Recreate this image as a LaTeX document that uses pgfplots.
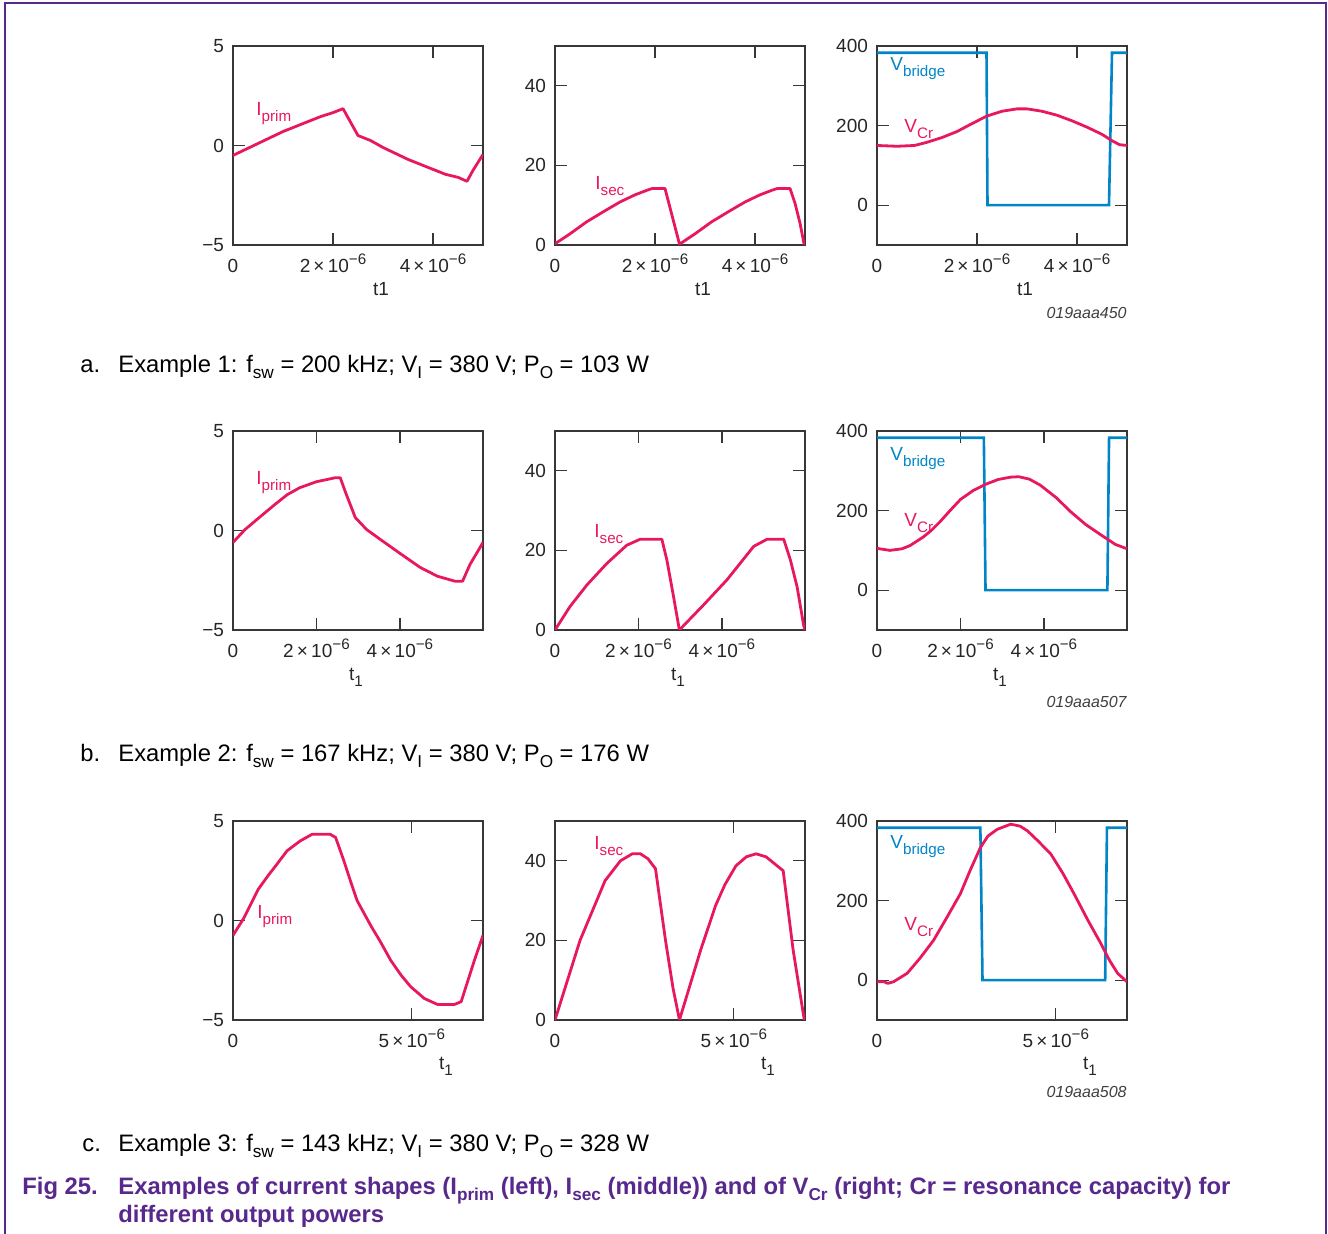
\documentclass[border=0pt]{standalone}
\usepackage{fontspec}
\setmainfont{Liberation Sans}
\usepackage{pgfplots}
\pgfplotsset{compat=1.18}
\definecolor{cred}{RGB}{232,24,92}
\definecolor{cblue}{RGB}{0,134,200}
\definecolor{cpurp}{RGB}{88,40,140}
\definecolor{cframe}{RGB}{55,55,55}
\newcommand{\ssub}[1]{\raisebox{-2.6pt}{\fontsize{7.6}{8}\selectfont #1}}
\newcommand{\csub}[1]{\raisebox{-2.6pt}{\fontsize{8.6}{9}\selectfont #1}}
\newcommand{\bsub}[1]{\raisebox{-2.6pt}{\fontsize{8.6}{9}\selectfont\bfseries #1}}
\newcommand{\sexp}[1]{\raisebox{4.2pt}{\fontsize{7.6}{8}\selectfont #1}}
\pgfplotsset{
  base/.style={
    scale only axis, width=125pt, height=99.5pt, anchor=south west,
    axis line style={draw=cframe, line width=0.65pt},
    every tick/.style={draw=cframe, line width=0.65pt},
    major tick length=6pt, tick align=inside,
    tick label style={font=\fontsize{9.5}{11}\selectfont, text=black!85},
    xticklabel style={anchor=base, yshift=-13.75pt},
    yticklabel style={anchor=east, xshift=-1pt},
  },
  iprim/.style={base, ymin=-5, ymax=5, ytick={-5,0,5}, yticklabels={−5,0,5}},
  isec/.style={base, ymin=0, ymax=50, ytick={0,20,40}, yticklabels={0,20,40}},
  vcr/.style={base, ymin=-100, ymax=400, ytick={0,200,400}, yticklabels={0,200,400}},
  rowab/.style={xtick={0,2,4}, xticklabels={0,{2\,×\,10\sexp{−6}},{4\,×\,10\sexp{−6}}}},
  rowc/.style={xtick={0,5}, xticklabels={0,{5\,×\,10\sexp{−6}}}},
  rc/.style={draw=cred, line width=1.4pt, line join=round, no marks},
  bc/.style={draw=cblue, line width=1.3pt, line join=miter, no marks},
}
\newcommand{\lbl}{\fontsize{9.5}{11}\selectfont}
\begin{document}
\begin{tikzpicture}[x=0.5pt,y=0.5pt]
\path[use as bounding box] (0,0) rectangle (1328,1234);
\draw[cpurp, line width=0.7pt] (5,-2) -- (5,1231) -- (1326,1231) -- (1326,-2);

% ---------------- Row a ----------------
\begin{axis}[iprim, rowab, at={(116.5pt,494.5pt)}, xmin=0, xmax=5]
\addplot[rc] table {
0 -0.5
0.25 -0.2
0.5 0.1
0.75 0.4
1.0 0.7
1.25 0.95
1.5 1.2
1.75 1.45
2.0 1.65
2.2 1.85
2.5 0.5
2.75 0.25
3.0 -0.1
3.25 -0.4
3.5 -0.7
3.75 -0.95
4.0 -1.2
4.25 -1.45
4.5 -1.6
4.68 -1.8
4.8 -1.25
5.0 -0.45
};
\end{axis}
\begin{axis}[isec, rowab, at={(277.5pt,494.5pt)}, xmin=0, xmax=5]
\addplot[rc] table {
0 0.3
0.3 2.8
0.63 5.8
1.0 8.6
1.3 10.8
1.6 12.6
1.85 13.8
1.95 14.2
2.2 14.2
2.49 0.2
2.8 2.8
3.13 5.8
3.5 8.6
3.8 10.8
4.1 12.6
4.35 13.8
4.45 14.2
4.7 14.2
4.8 10.5
4.9 5.5
4.98 0.3
5.0 0
};
\end{axis}
\begin{axis}[vcr, rowab, at={(438.5pt,494.5pt)}, xmin=0, xmax=5]
\addplot[bc] table {
0 383
2.19 383
2.21 0
4.64 0
4.7 383
5 383
};
\addplot[rc] table {
0 150
0.4 148
0.75 150
1.0 158
1.3 170
1.6 185
1.9 205
2.2 224
2.5 236
2.8 242
3.0 242
3.3 236
3.6 226
3.9 212
4.2 196
4.5 178
4.7 162
4.85 152
5.0 150
};
\end{axis}

% ---------------- Row b ----------------
\begin{axis}[iprim, rowab, at={(116.5pt,302pt)}, xmin=0, xmax=5.99]
\addplot[rc] table {
0 -0.6
0.29 0.05
0.6 0.6
1.0 1.3
1.3 1.8
1.6 2.15
2.0 2.45
2.45 2.65
2.57 2.65
2.69 1.95
2.93 0.65
3.2 0.05
3.53 -0.45
4.0 -1.15
4.48 -1.85
4.9 -2.3
5.32 -2.55
5.5 -2.55
5.68 -1.7
5.85 -1.1
5.99 -0.6
};
\end{axis}
\begin{axis}[isec, rowab, at={(277.5pt,302pt)}, xmin=0, xmax=5.99]
\addplot[rc] table {
0 0
0.36 5.9
0.76 11.25
1.24 16.7
1.72 21.3
2.04 22.8
2.56 22.8
2.68 17.6
2.84 8.4
2.98 0
3.56 6.3
4.12 12.6
4.76 21
5.08 22.8
5.48 22.8
5.64 17.6
5.8 10.9
5.96 1
5.99 0
};
\end{axis}
\begin{axis}[vcr, rowab, at={(438.5pt,302pt)}, xmin=0, xmax=5.99]
\addplot[bc] table {
0 383
2.56 383
2.6 0
5.52 0
5.56 383
5.99 383
};
\addplot[rc] table {
0 105
0.31 100
0.6 104
0.79 112
1.1 133
1.3 150
1.51 172
1.75 200
2.0 228
2.3 250
2.6 266
2.9 278
3.2 284
3.4 285
3.65 279
3.91 264
4.3 232
4.63 198
5.0 165
5.35 140
5.71 115
5.99 104
};
\end{axis}

% ---------------- Row c ----------------
\begin{axis}[iprim, rowc, at={(116.5pt,107pt)}, xmin=0, xmax=6.99]
\addplot[rc] table {
0 -0.75
0.29 0.08
0.71 1.58
1.0 2.3
1.23 2.83
1.51 3.5
1.88 4.0
2.21 4.33
2.72 4.33
2.87 4.17
3.1 3.0
3.3 1.9
3.47 1.0
3.85 -0.25
4.1 -1.0
4.41 -2.0
4.7 -2.75
4.97 -3.33
5.35 -3.92
5.72 -4.22
6.19 -4.22
6.38 -4.08
6.75 -2.0
6.99 -0.75
};
\end{axis}
\begin{axis}[isec, rowc, at={(277.5pt,107pt)}, xmin=0, xmax=6.99]
\addplot[rc] table {
0 0
0.35 10
0.7 20
0.98 26
1.4 35
1.83 40
2.16 41.75
2.39 41.75
2.6 40.5
2.81 38
3.09 20
3.3 8
3.48 0
4.07 17.5
4.49 28.75
4.75 34
5.06 38.75
5.35 41
5.62 41.75
5.9 41
6.38 37.5
6.66 17.5
6.97 0
};
\end{axis}
\begin{axis}[vcr, rowc, at={(438.5pt,107pt)}, xmin=0, xmax=6.99]
\addplot[bc] table {
0 383
2.89 383
2.95 0
6.38 0
6.43 383
6.99 383
};
\addplot[rc] table {
0 -4
0.2 -4
0.3 -8
0.46 -4
0.84 17
1.2 55
1.58 100
1.95 157
2.33 217
2.6 275
2.89 333
3.1 362
3.36 379
3.74 392
4.0 387
4.21 375
4.5 350
4.86 317
5.2 268
5.51 217
5.9 150
6.26 92
6.5 50
6.73 17
6.99 -4
};
\end{axis}

% ---------------- in-plot labels ----------------
\begin{scope}[every node/.style={inner sep=0pt, font=\lbl}]
\node[anchor=base west, text=cred] at (256,{1234-116}) {I\ssub{prim}};
\node[anchor=base west, text=cred] at (595,{1234-190}) {I\ssub{sec}};
\node[anchor=base west, text=cblue] at (890,{1234-71}) {V\ssub{bridge}};
\node[anchor=base west, text=cred] at (904,{1234-133}) {V\ssub{Cr}};

\node[anchor=base west, text=cred] at (256,{1234-485}) {I\ssub{prim}};
\node[anchor=base west, text=cred] at (594,{1234-538}) {I\ssub{sec}};
\node[anchor=base west, text=cblue] at (890,{1234-461}) {V\ssub{bridge}};
\node[anchor=base west, text=cred] at (904,{1234-527}) {V\ssub{Cr}};

\node[anchor=base west, text=cred] at (257,{1234-919}) {I\ssub{prim}};
\node[anchor=base west, text=cred] at (594,{1234-850}) {I\ssub{sec}};
\node[anchor=base west, text=cblue] at (890,{1234-849}) {V\ssub{bridge}};
\node[anchor=base west, text=cred] at (904,{1234-931}) {V\ssub{Cr}};

% axis labels
\node[anchor=base, text=black!85] at (381,{1234-296}) {t1};
\node[anchor=base, text=black!85] at (703,{1234-296}) {t1};
\node[anchor=base, text=black!85] at (1025,{1234-296}) {t1};
\node[anchor=base, text=black!85] at (356,{1234-681}) {t\ssub{1}};
\node[anchor=base, text=black!85] at (678,{1234-681}) {t\ssub{1}};
\node[anchor=base, text=black!85] at (1000,{1234-681}) {t\ssub{1}};
\node[anchor=base, text=black!85] at (446,{1234-1070}) {t\ssub{1}};
\node[anchor=base, text=black!85] at (768,{1234-1070}) {t\ssub{1}};
\node[anchor=base, text=black!85] at (1090,{1234-1070}) {t\ssub{1}};
\end{scope}

% figure codes
\begin{scope}[every node/.style={inner sep=0pt, anchor=base east, text=black!75, font=\fontsize{8}{9}\selectfont\itshape}]
\node at (1127,{1234-319}) {019aaa450};
\node at (1127,{1234-708}) {019aaa507};
\node at (1127,{1234-1098}) {019aaa508};
\end{scope}

% sub captions
\begin{scope}[every node/.style={inner sep=0pt, anchor=base west, text=black, font=\fontsize{11.9}{14}\selectfont}]
\node at (80,{1234-373}) {a.};
\node at (118,{1234-373}) {Example 1: f\csub{sw} = 200 kHz; V\csub{I} = 380 V; P\csub{O} = 103 W};
\node at (80,{1234-762}) {b.};
\node at (118,{1234-762}) {Example 2: f\csub{sw} = 167 kHz; V\csub{I} = 380 V; P\csub{O} = 176 W};
\node at (82,{1234-1152}) {c.};
\node at (118,{1234-1152}) {Example 3: f\csub{sw} = 143 kHz; V\csub{I} = 380 V; P\csub{O} = 328 W};
\end{scope}

% figure caption
\begin{scope}[every node/.style={inner sep=0pt, anchor=base west, text=cpurp, font=\fontsize{11.9}{14}\selectfont\bfseries}]
\node at (22,{1234-1195}) {Fig 25.};
\node at (118,{1234-1195}) {Examples of current shapes (I\bsub{prim} (left), I\bsub{sec} (middle)) and of V\bsub{Cr} (right; Cr = resonance capacity) for};
\node at (118,{1234-1223}) {different output powers};
\end{scope}
\end{tikzpicture}
\end{document}
